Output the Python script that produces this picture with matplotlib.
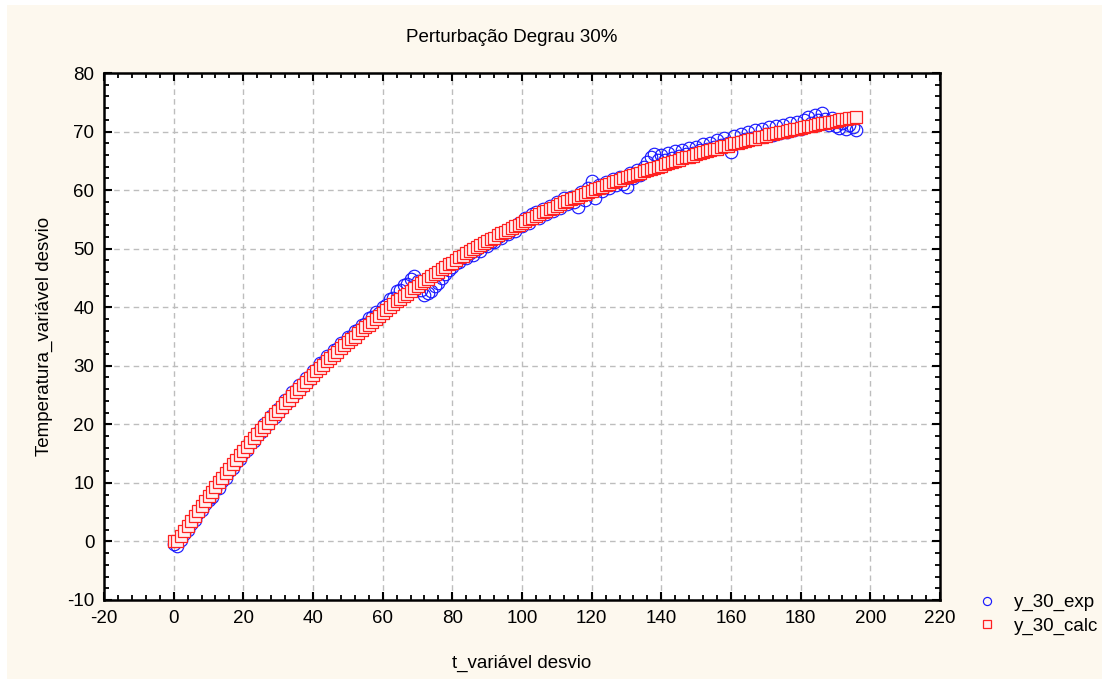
import matplotlib
matplotlib.use('Agg')
import matplotlib.pyplot as plt
from matplotlib.ticker import MultipleLocator
from matplotlib.patches import Rectangle

plt.rcParams['font.family'] = ['Liberation Sans', 'DejaVu Sans']
plt.rcParams['axes.unicode_minus'] = False

# time (s), step 1
t = list(range(0, 197))

y_30_calc = [
    0.0, 0.0, 0.9, 1.8, 2.7, 3.5, 4.4, 5.2, 6.1, 6.9, 7.7,
    8.5, 9.3, 10.1, 10.9, 11.7, 12.4, 13.2, 13.9, 14.7, 15.4,
    16.1, 16.9, 17.6, 18.3, 19.0, 19.6, 20.3, 21.0, 21.7, 22.3,
    23.0, 23.6, 24.2, 24.9, 25.5, 26.1, 26.7, 27.3, 27.9, 28.5,
    29.1, 29.6, 30.2, 30.8, 31.3, 31.9, 32.4, 33.0, 33.5, 34.0,
    34.5, 35.0, 35.6, 36.1, 36.6, 37.0, 37.5, 38.0, 38.5, 39.0,
    39.6, 40.1, 40.5, 41.0, 41.4, 41.9, 42.3, 42.7, 43.2, 43.6,
    44.1, 44.5, 44.9, 45.3, 45.7, 46.1, 46.5, 46.9, 47.3, 47.6,
    48.1, 48.5, 48.8, 49.2, 49.6, 49.9, 50.3, 50.6, 50.9, 51.3,
    51.6, 51.9, 52.3, 52.6, 52.9, 53.2, 53.5, 53.8, 54.1, 54.4,
    54.7, 55.0, 55.3, 55.6, 55.9, 56.2, 56.5, 56.7, 57.0, 57.3,
    57.6, 57.9, 58.1, 58.4, 58.6, 58.9, 59.1, 59.4, 59.6, 59.9,
    60.2, 60.4, 60.6, 60.9, 61.1, 61.3, 61.5, 61.8, 62.0, 62.2,
    62.4, 62.6, 62.8, 63.0, 63.2, 63.4, 63.6, 63.8, 64.0, 64.2,
    64.5, 64.6, 64.8, 65.0, 65.2, 65.4, 65.6, 65.7, 65.9, 66.1,
    66.3, 66.5, 66.6, 66.8, 67.0, 67.1, 67.3, 67.5, 67.6, 67.8,
    68.0, 68.1, 68.3, 68.4, 68.6, 68.7, 68.8, 69.0, 69.1, 69.3,
    69.5, 69.6, 69.7, 69.9, 70.0, 70.1, 70.2, 70.4, 70.5, 70.6,
    70.8, 70.9, 71.0, 71.2, 71.3, 71.4, 71.5, 71.6, 71.7, 71.8,
    72.0, 72.1, 72.2, 72.3, 72.4, 72.5,
]

y_30_exp = [
    -0.5, -0.7, 0.3, 1.2, 1.9, 3.0, 3.6, 4.8, 5.3, 6.4, 7.0,
    7.6, 8.9, 9.2, 10.4, 10.8, 12.0, 12.5, 13.6, 14.0, 15.1,
    15.6, 16.8, 17.1, 18.6, 18.7, 20.1, 20.0, 21.4, 21.3, 22.6,
    22.8, 24.1, 24.0, 25.5, 25.3, 26.7, 26.6, 27.9, 27.8, 29.1,
    29.3, 30.4, 30.5, 31.6, 31.5, 32.7, 32.8, 33.9, 33.8, 34.9,
    35.0, 35.9, 36.1, 37.0, 37.2, 38.1, 38.3, 39.2, 39.0, 40.1,
    40.4, 41.4, 41.6, 42.7, 42.9, 43.8, 44.0, 44.9, 45.3, 44.4,
    43.0, 42.1, 42.5, 42.8, 43.6, 44.2, 45.0, 45.6, 46.4, 46.9,
    47.5, 47.8, 48.6, 48.4, 49.3, 49.0, 49.9, 49.6, 50.7, 50.4,
    51.2, 51.1, 52.0, 51.8, 52.7, 52.5, 53.4, 53.1, 54.3, 53.9,
    55.2, 54.3, 55.9, 56.3, 55.2, 56.8, 55.9, 57.3, 56.5, 57.9,
    57.0, 58.6, 57.6, 58.9, 57.9, 57.2, 59.6, 58.3, 60.4, 61.5,
    58.6, 60.9, 59.8, 61.4, 60.4, 61.9, 60.8, 62.3, 61.1, 60.6,
    62.9, 62.0, 63.4, 62.5, 64.0, 64.8, 65.7, 66.2, 65.1, 66.0,
    65.2, 66.3, 65.4, 66.6, 65.8, 66.9, 66.1, 67.2, 66.4, 67.4,
    66.9, 67.8, 67.0, 68.1, 67.4, 68.6, 67.7, 68.9, 68.0, 66.5,
    69.2, 68.3, 69.6, 68.7, 69.9, 68.9, 70.3, 69.1, 70.4, 69.6,
    70.7, 69.4, 70.9, 69.8, 71.2, 70.0, 71.5, 70.3, 71.7, 70.5,
    71.9, 72.5, 71.4, 72.8, 71.9, 73.1, 72.2, 71.1, 72.4, 70.9,
    70.6, 71.5, 70.4, 71.2, 70.7, 70.2,
]

fig = plt.figure(figsize=(11.09, 6.84), dpi=100, facecolor='white')
fig.patches.append(Rectangle((7 / 1109, 5 / 684), 1 - 14 / 1109, 1 - 10 / 684,
                             transform=fig.transFigure, facecolor='#fdf8ee',
                             edgecolor='none', zorder=-10))

ax = fig.add_axes([104 / 1109, 84 / 684, 836 / 1109, 527 / 684])
ax.set_facecolor('white')

ax.plot(t, y_30_exp, linestyle='none', marker='o', markersize=9,
        markerfacecolor='none', markeredgecolor='#1a1aff', markeredgewidth=0.85,
        label='y_30_exp', zorder=3)
ax.plot(t, y_30_calc, linestyle='none', marker='s', markersize=8,
        markerfacecolor='#fff0f0', markeredgecolor='#ff2020', markeredgewidth=0.9,
        label='y_30_calc', zorder=4)

ax.set_xlim(-20, 220)
ax.set_ylim(-10, 80)
ax.xaxis.set_major_locator(MultipleLocator(20))
ax.xaxis.set_minor_locator(MultipleLocator(4))
ax.yaxis.set_major_locator(MultipleLocator(10))
ax.yaxis.set_minor_locator(MultipleLocator(2))

ax.tick_params(which='both', direction='in', top=True, right=True,
               labelsize=13.5, colors='black')
ax.tick_params(which='major', length=6, width=1.5, pad=7)
ax.tick_params(which='minor', length=3.5, width=1.3)
for s in ax.spines.values():
    s.set_linewidth(1.8)
    s.set_color('black')

ax.grid(True, which='major', color='#bdbdbd', linestyle=(0, (4, 3)), linewidth=1)
ax.set_axisbelow(True)

ax.set_xlabel('t_variável desvio', fontsize=13.5, labelpad=20)
ax.set_ylabel('Temperatura_variável desvio', fontsize=13.5, labelpad=10)
fig.text(512 / 1109, 1 - 38 / 684, 'Perturbação Degrau 30%', ha='center',
         va='center', fontsize=13.5)

fig.legend(handles=ax.get_lines(), loc='upper left',
           bbox_to_anchor=(976 / 1109, 1 - 594 / 684), frameon=False,
           fontsize=13.5, markerscale=0.65, handletextpad=0.8, labelspacing=0.35,
           handlelength=1.2, borderpad=0, borderaxespad=0)

fig.savefig('out.png', dpi=100, facecolor=fig.get_facecolor())
